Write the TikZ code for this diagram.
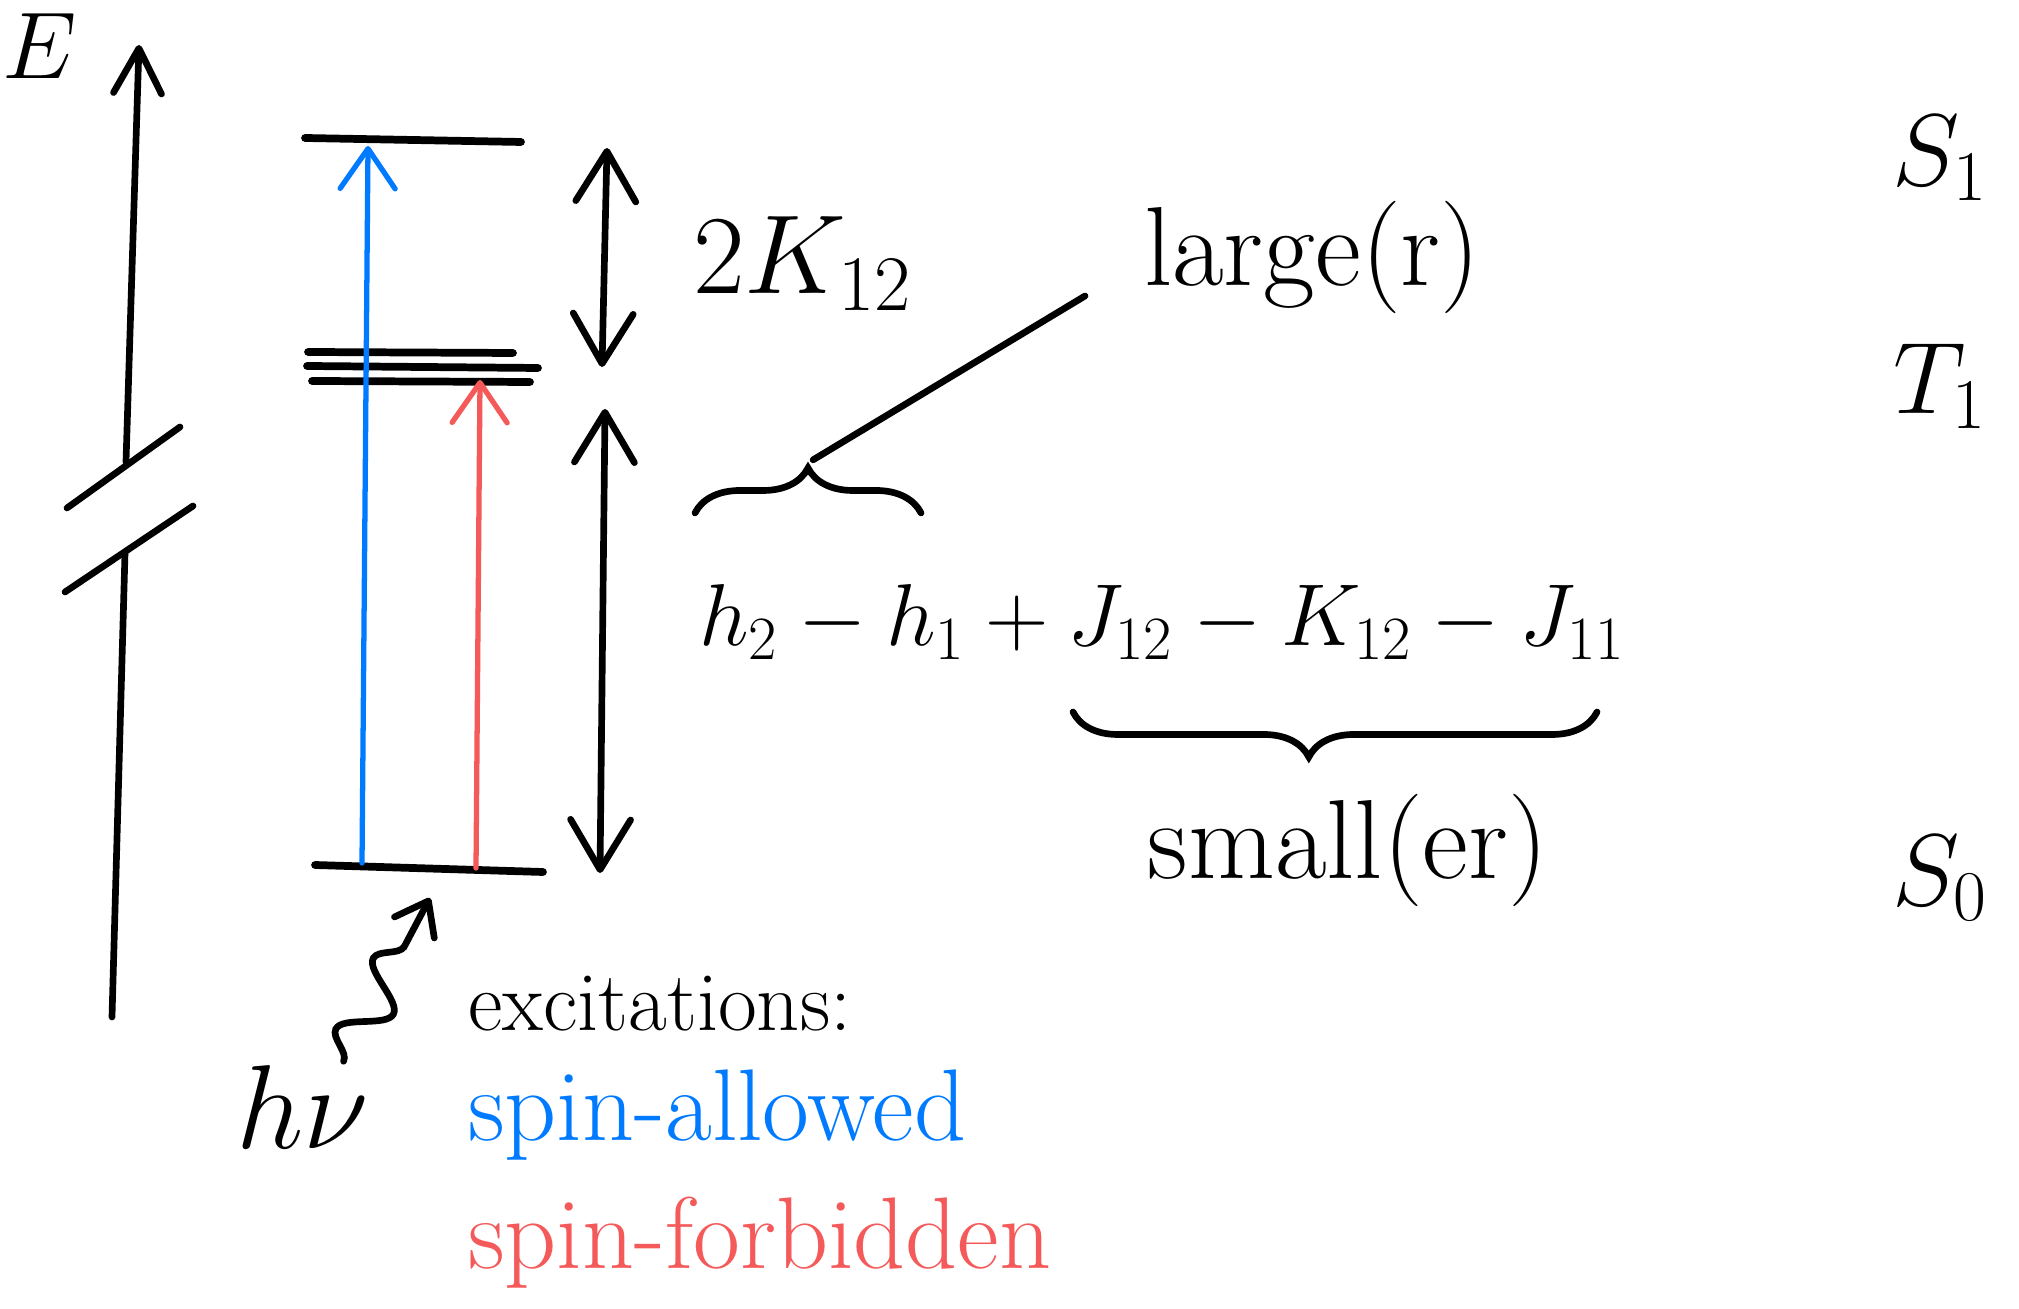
\RequirePackage{fix-cm}
\documentclass[tikz,border=0pt]{standalone}
\usepackage{fontspec}
\usepackage{amsmath}
\usepackage{xcolor}
\usetikzlibrary{arrows.meta,positioning,calc,decorations.pathmorphing,decorations.pathreplacing}
\definecolor{allowed}{RGB}{0,122,255}
\definecolor{forbidden}{RGB}{245,90,90}

\begin{document}
\begin{tikzpicture}[
  lvl/.style={line width=2.2pt,line cap=round},
  ax/.style={line width=1.9pt,line cap=round},
  exc/.style={line width=1.5pt,line cap=round,-{Straight Barb[round,length=4mm,width=5.5mm]}},
  gap/.style={line width=1.9pt,line cap=round,{Straight Barb[round,length=5mm,width=6mm]}-{Straight Barb[round,length=5mm,width=6mm]}},
  brc/.style={line width=1.9pt,line cap=round,decorate,decoration={brace,amplitude=4.5mm}},
  photon/.style={line width=1.9pt,line cap=round,decorate,decoration={snake,amplitude=2.2mm,segment length=8mm,post length=2mm},-{Straight Barb[round,length=3mm,width=4.5mm]}},
  note/.style={font=\fontsize{32}{36}\selectfont},
  form/.style={font=\fontsize{25}{30}\selectfont},
  state/.style={font=\fontsize{29}{32}\selectfont},
  leg/.style={font=\fontsize{29}{32}\selectfont},
  every node/.style={inner sep=1pt}]
\useasboundingbox (0,0) rectangle (20.19,13.08);

\node[font=\fontsize{27}{30}\selectfont] (E) at (0.40,12.62) {$E$};
\draw[ax] (1.12,2.91) -- (1.25,7.55);
\draw[ax,-{Straight Barb[round,length=4.5mm,width=4.8mm]}] (1.26,8.46) -- (1.39,12.63);
\draw[ax] (0.67,8.00) -- (1.80,8.81);
\draw[ax] (0.65,7.16) -- (1.93,8.02);

\draw[lvl] (3.05,11.70) -- (5.21,11.66);
\draw[lvl] (3.08,9.56) -- (5.13,9.55);
\draw[lvl] (3.07,9.42) -- (5.38,9.40);
\draw[lvl] (3.12,9.27) -- (5.30,9.26);
\draw[lvl] (3.15,4.43) -- (5.43,4.36);

\coordinate (s0a) at (3.62,4.45);
\coordinate (s1a) at (3.68,11.62);
\coordinate (s0b) at (4.76,4.40);
\coordinate (t1b) at (4.80,9.28);
\draw[exc,allowed] (s0a) -- (s1a);
\draw[exc,forbidden] (s0b) -- (t1b);

\coordinate (g1) at (6.07,11.60);
\coordinate (g2) at (6.02,9.41);
\coordinate (g3) at (6.05,8.99);
\coordinate (g4) at (6.00,4.35);
\draw[gap] (g1) -- (g2);
\draw[gap] (g3) -- (g4);

\node[state] (S1) at (19.40,11.50) {$S_1$};
\node[state] (T1) at (19.40,9.22) {$T_1$};
\node[state] (S0) at (19.40,4.30) {$S_0$};

\node[note,anchor=base west] (K) at (6.89,10.14) {$2K_{12}$};
\node[note,anchor=base west] (large) at (11.40,10.22) {large(r)};
\node[form,anchor=base west] (diff) at (6.95,6.62) {$h_2-h_1+J_{12}-K_{12}-J_{11}$};
\draw[brc] (6.95,7.95) -- node[midway,above=4.5mm,inner sep=0] (bt) {} (9.21,7.95);
\draw[ax] ([shift={(0.26,0.28)}]bt) -- ([xshift=-0.55cm,yshift=-1mm]large.base west);
\draw[brc,decoration={aspect=0.55}] (15.97,5.96) -- node[pos=0.55,below=4.5mm,inner sep=0] (bb) {} (10.73,5.96);
\node[note,anchor=base] (small) at (13.48,4.29) {small(er)};

\node[font=\fontsize{34}{38}\selectfont] (hv) at (3.03,2.01) {$h\nu$};
\coordinate (phend) at (4.30,4.10);
\draw[photon] ([xshift=-3mm]hv.north east) -- (phend);

\node[font=\fontsize{24}{28}\selectfont,anchor=base west] (excit) at (4.64,2.78) {excitations:};
\node[leg,allowed,below=1.10cm of excit.base west,anchor=base west] (allw) {spin-allowed};
\node[leg,forbidden,below=1.28cm of allw.base west,anchor=base west] (forb) {spin-forbidden};
\end{tikzpicture}
\end{document}
